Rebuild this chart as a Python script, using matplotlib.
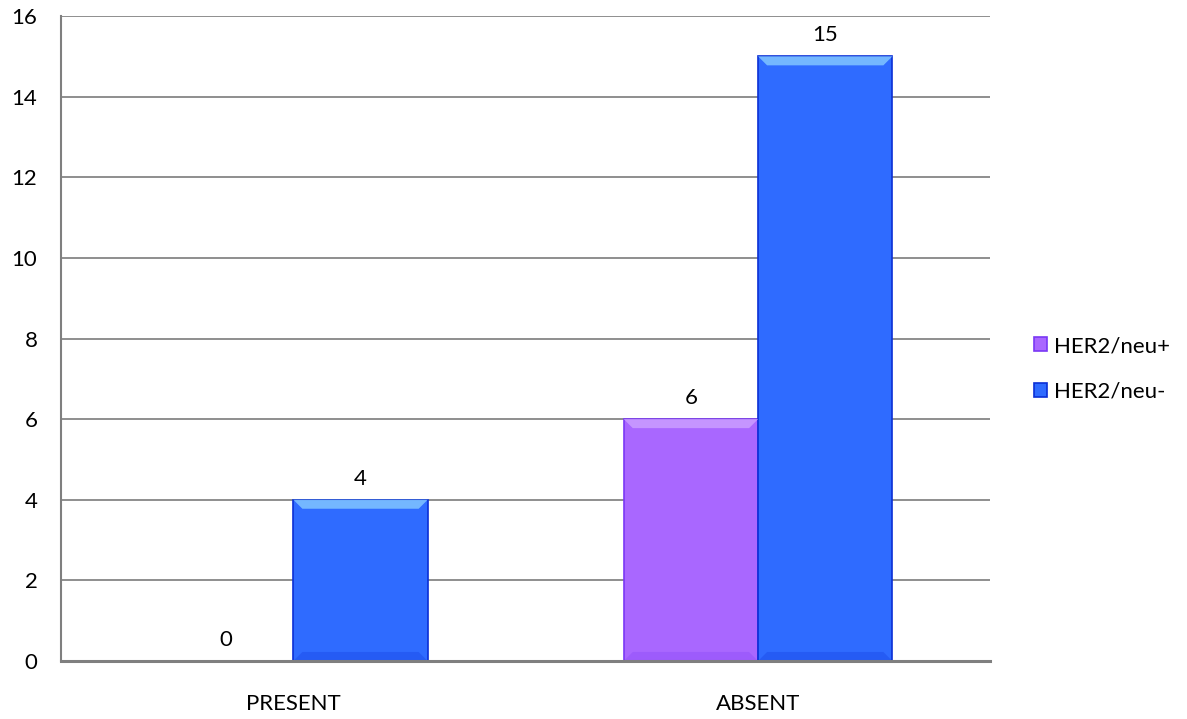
import matplotlib
matplotlib.use("Agg")
import matplotlib.pyplot as plt
from matplotlib.patches import Polygon
import numpy as np

categories = ["PRESENT", "ABSENT"]
series_names = ["HER2/neu+", "HER2/neu-"]
her2_pos = [0, 6]
her2_neg = [4, 15]
y_ticks = [0, 2, 4, 6, 8, 10, 12, 14, 16]

face_colors = ["#A967FF", "#2F6BFF"]
edge_colors = ["#7A38F5", "#0A2FD6"]
top_colors = ["#C99BFF", "#7CC0FF"]

plt.rcParams["font.family"] = ["Lato", "DejaVu Sans"]
FS = 16

fig = plt.figure(figsize=(11.87, 7.19), dpi=100)
ax = fig.add_axes([0.0514, 0.0807, 0.783, 0.897])

x = np.arange(len(categories))
width = 0.289
ax.set_xlim(-0.5, len(categories) - 0.5)
ax.set_ylim(0, 16)

# px per data unit, used to size the bevel highlight
px_per_unit_y = ax.get_position().height * fig.get_figheight() * fig.dpi / 16.0
px_per_unit_x = ax.get_position().width * fig.get_figwidth() * fig.dpi / 2.0

for i, vals in enumerate([her2_pos, her2_neg]):
    offs = (i - 0.5) * width
    bars = ax.bar(x + offs, vals, width, color=face_colors[i], edgecolor=edge_colors[i],
                  linewidth=1.2, label=series_names[i], zorder=3)
    for b, v in zip(bars, vals):
        bx, bw = b.get_x(), b.get_width()
        if v > 0:
            dy = 9 / px_per_unit_y
            dx = 9 / px_per_unit_x
            # bevel: light top strip
            top = Polygon([[bx, v], [bx + bw, v], [bx + bw - dx, v - dy], [bx + dx, v - dy]],
                          closed=True, facecolor=top_colors[i], edgecolor="none", zorder=4, alpha=0.9)
            ax.add_patch(top)
            # bevel: subtle darker bottom strip
            bot = Polygon([[bx, 0], [bx + bw, 0], [bx + bw - dx, dy], [bx + dx, dy]],
                          closed=True, facecolor=edge_colors[i], edgecolor="none", zorder=4, alpha=0.25)
            ax.add_patch(bot)
        ax.annotate(str(v), (bx + bw / 2, v), xytext=(0, 8), textcoords="offset points",
                    ha="center", va="bottom", fontsize=FS, color="#000000")

ax.set_yticks(y_ticks)
ax.set_xticks(x)
ax.set_xticklabels(categories)
ax.tick_params(axis="y", length=0, pad=17, labelsize=FS)
ax.tick_params(axis="x", length=0, pad=24, labelsize=FS)
ax.yaxis.grid(True, color="#868686", linewidth=1.3, zorder=0)
ax.set_axisbelow(True)
for s in ["top", "right"]:
    ax.spines[s].set_visible(False)
ax.spines["left"].set_color("#7F7F7F")
ax.spines["left"].set_linewidth(1.5)
ax.spines["bottom"].set_color("#7F7F7F")
ax.spines["bottom"].set_linewidth(2.2)
ax.spines["bottom"].set_zorder(5)

leg = fig.legend(loc="center left", bbox_to_anchor=(0.871, 0.487), frameon=False,
                 fontsize=FS, handlelength=0.6, handleheight=0.6, handletextpad=0.3,
                 labelspacing=1.15, borderaxespad=0, borderpad=0)

fig.savefig("out.png", dpi=100, facecolor="white")
